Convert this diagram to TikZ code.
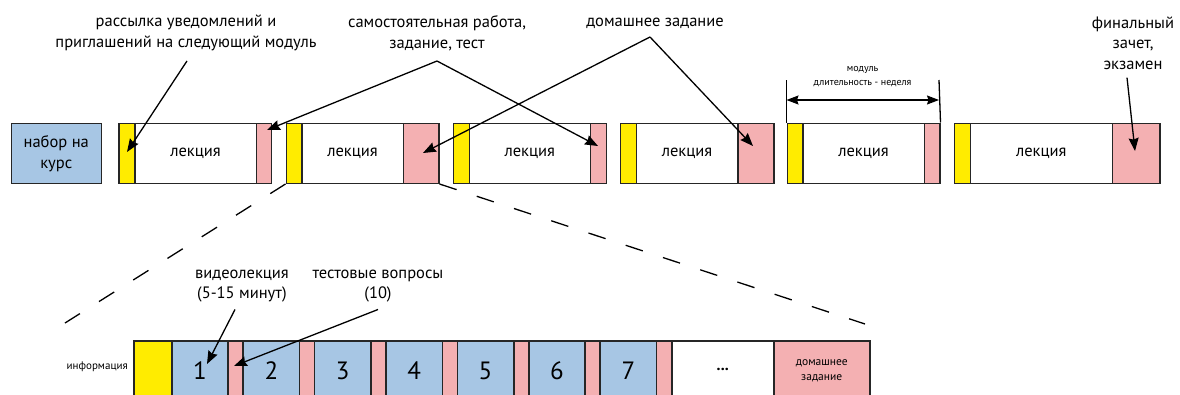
\documentclass[tikz,border=0pt]{standalone}
\usepackage{fontspec}
\setmainfont{PT Sans}
\usetikzlibrary{arrows.meta,calc}
\definecolor{cblue}{HTML}{A7C6E4}
\definecolor{cyel}{HTML}{FFEC00}
\definecolor{cpink}{HTML}{F4B0B2}
\tikzset{
  box/.style={draw=black!85, line width=1.5pt, inner sep=0pt, anchor=north west, minimum height=60pt, align=center},
  yel/.style={box, fill=cyel},
  wht/.style={box, fill=white, font=\fontsize{16.5}{20}\selectfont},
  pnk/.style={box, fill=cpink},
  blu/.style={box, fill=cblue},
  lbl/.style={align=center, inner sep=0pt, font=\fontsize{16.5}{20.5}\selectfont},
  small/.style={align=center, inner sep=0pt, font=\fontsize{10}{14}\selectfont},
  arr/.style={line width=1.3pt, -{Stealth[length=13pt,width=10pt,inset=1.5pt]}},
  dimarr/.style={line width=1.3pt, {Stealth[length=12pt,width=9pt,inset=1.5pt]}-{Stealth[length=12pt,width=9pt,inset=1.5pt]}},
  dsh/.style={line width=1.3pt},
}
\begin{document}
\begin{tikzpicture}[x=1pt,y=-1pt]
\path[use as bounding box] (0,0) rectangle (1180,394);
\clip (0,0) rectangle (1180,394);
% top row
\node[blu, minimum width=90pt, font=\fontsize{16.5}{21}\selectfont] (start) at (10.5,122.5) {набор на\\курс};
% module 1
\node[yel, minimum width=16pt] (m1y) at (118,122.5) {};
\node[wht, minimum width=121.5pt] (m1w) at (134,122.5) {лекция};
\node[pnk, minimum width=15pt] (m1p) at (255.5,122.5) {};
% module 2
\node[yel, minimum width=15.5pt] (m2y) at (285.5,122.5) {};
\node[wht, minimum width=101.5pt] (m2w) at (301,122.5) {лекция};
\node[pnk, minimum width=35.5pt] (m2p) at (402.5,122.5) {};
% module 3
\node[yel, minimum width=16pt] (m3y) at (452.5,122.5) {};
\node[wht, minimum width=121pt] (m3w) at (468.5,122.5) {лекция};
\node[pnk, minimum width=16pt] (m3p) at (589.5,122.5) {};
% module 4
\node[yel, minimum width=16pt] (m4y) at (619.5,122.5) {};
\node[wht, minimum width=101.5pt] (m4w) at (635.5,122.5) {лекция};
\node[pnk, minimum width=36pt] (m4p) at (737,122.5) {};
% module 5
\node[yel, minimum width=15.5pt] (m5y) at (786.5,122.5) {};
\node[wht, minimum width=121.5pt] (m5w) at (802,122.5) {лекция};
\node[pnk, minimum width=15.5pt] (m5p) at (923.5,122.5) {};
% module 6
\node[yel, minimum width=16pt] (m6y) at (953.5,122.5) {};
\node[wht, minimum width=142pt] (m6w) at (969.5,122.5) {лекция};
\node[pnk, minimum width=47.5pt] (m6p) at (1111.5,122.5) {};

% labels
\node[lbl] (lsend) at (186,33) {рассылка уведомлений и\\приглашений на следующий модуль};
\node[lbl] (lself) at (437,33) {самостоятельная работа,\\задание, тест};
\node[lbl] (lhome) at (655,23) {домашнее задание};
\node[lbl] (lfin) at (1133,43) {финальный\\зачет,\\экзамен};

\coordinate (aself) at (437,61);
\coordinate (ahome) at (650,37);
\coordinate (tsend) at (127,152);
\coordinate (tself1) at (267,130);
\coordinate (tself3) at (598,146);
\coordinate (thome2) at (423,153);
\coordinate (thome4) at (753,146);
\coordinate (tfin) at (1135,151);

\draw[arr] (lsend.south) ++(1,10) coordinate (asend) (asend) -- (tsend);
\draw[arr] (aself) -- (tself1);
\draw[arr] (aself) -- (tself3);
\draw[arr] (ahome) -- (thome2);
\draw[arr] (ahome) -- (thome4);
\draw[arr] (lfin.south) ++(-6,8) coordinate (afin) (afin) -- (tfin);

% module dimension
\coordinate (d1) at (786.5,80);
\coordinate (d2) at (939,80);
\draw[line width=1.3pt] (d1) -- (m5y.north west);
\draw[line width=1.3pt] (d2) -- (m5p.north east);
\coordinate (h1) at (786.5,100);
\coordinate (h2) at (939,100);
\draw[dimarr] (h1) -- (h2);
\node[small] (dimtxt) at (862.5,77) {модуль\\длительность - неделя};

% dashed zoom lines
\coordinate (zl) at (65,323);
\coordinate (zr) at (865,324);
\draw[dsh, dash pattern=on 18pt off 22.5pt] (m2y.south west) -- (zl);
\draw[dsh, dash pattern=on 18pt off 21.2pt] (m2p.south east) -- (zr);

% bottom row
\node[yel, minimum width=38pt] (by) at (133,340) {};
\foreach \i in {1,...,7}{
  \pgfmathsetmacro{\bx}{171+(\i-1)*71.4}
  \pgfmathsetmacro{\px}{227.4+(\i-1)*71.4}
  \node[blu, minimum width=56.4pt, font=\fontsize{25}{26}\selectfont] (b\i) at (\bx,340) {\i};
  \node[pnk, minimum width=15pt] (p\i) at (\px,340) {};
}
\node[box, fill=white, minimum width=102pt, font=\fontsize{16}{20}\selectfont\bfseries] (bdots) at (671,340) {\raisebox{3pt}{...}};
\node[pnk, minimum width=96pt, font=\fontsize{11.5}{15}\selectfont] (bhome) at (773,340) {домашнее\\задание};
\node[small, anchor=east, font=\fontsize{11}{12}\selectfont] (binfo) at (128,367) {информация};

% bottom labels
\node[lbl] (lvid) at (242,286) {видеолекция\\(5-15 минут)};
\node[lbl] (ltest) at (378,286) {тестовые вопросы\\(10)};
\coordinate (tvid) at (207,364);
\coordinate (ttest) at (234,366);
\draw[arr] (lvid.south) ++(-7,7) coordinate (avid) (avid) -- (tvid);
\draw[arr] (ltest.south) ++(0,7) coordinate (atest) (atest) -- (ttest);
\end{tikzpicture}
\end{document}
